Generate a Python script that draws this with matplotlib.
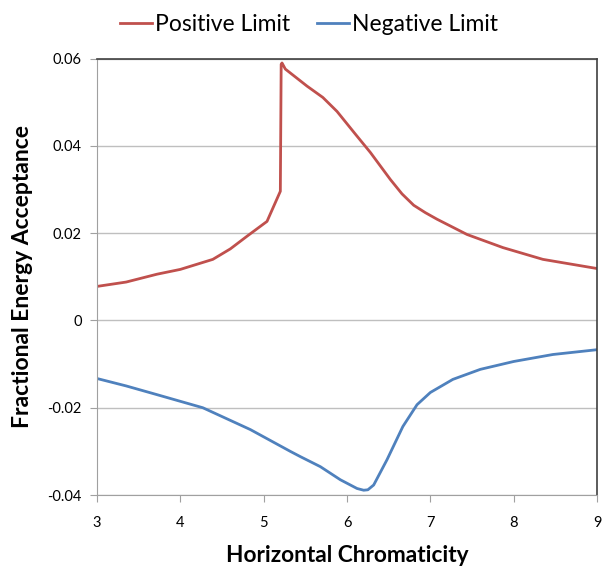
import matplotlib
matplotlib.use("Agg")
import matplotlib.pyplot as plt

plt.rcParams['font.family'] = ['Lato', 'DejaVu Sans']

# positive limit (red)
x_pos = [3.0, 3.35, 3.72, 4.0, 4.39, 4.6, 4.8, 5.04, 5.2, 5.21, 5.22, 5.26, 5.52, 5.71,
         5.88, 6.1, 6.28, 6.52, 6.66, 6.8, 6.94, 7.08, 7.44, 7.87, 8.35, 9.0]
y_pos = [0.0078, 0.0088, 0.0106, 0.0117, 0.0140, 0.0164, 0.0193, 0.0227, 0.0296, 0.0587,
         0.0590, 0.0576, 0.0537, 0.0511, 0.0479, 0.0427, 0.0385, 0.0323, 0.0290, 0.0264,
         0.0247, 0.0232, 0.0197, 0.0167, 0.0140, 0.0119]

# negative limit (blue)
x_neg = [3.0, 3.35, 3.72, 4.27, 4.84, 5.32, 5.44, 5.68, 5.92, 6.12, 6.2, 6.25, 6.32,
         6.48, 6.67, 6.84, 7.0, 7.27, 7.6, 8.0, 8.47, 9.0]
y_neg = [-0.0133, -0.0150, -0.0170, -0.0200, -0.0250, -0.0300, -0.0312, -0.0335,
         -0.0365, -0.0385, -0.0389, -0.0388, -0.0377, -0.0319, -0.0243, -0.0193,
         -0.0165, -0.0135, -0.0112, -0.0094, -0.0078, -0.0067]

x_ticks = [3, 4, 5, 6, 7, 8, 9]
y_ticks = [-0.04, -0.02, 0.0, 0.02, 0.04, 0.06]
y_labels = ['-0.04', '-0.02', '0', '0.02', '0.04', '0.06']

fig = plt.figure(figsize=(6.08, 5.69), dpi=100)
ax = fig.add_axes([0.1595, 0.130, 0.8225, 0.767])

ax.plot(x_pos, y_pos, color='#C0504D', lw=2.0, label='Positive Limit', solid_joinstyle='round')
ax.plot(x_neg, y_neg, color='#4F81BD', lw=2.0, label='Negative Limit', solid_joinstyle='round')

ax.set_xlim(3, 9)
ax.set_ylim(-0.04, 0.06)
ax.set_xticks(x_ticks)
ax.set_yticks(y_ticks, labels=y_labels)
ax.grid(axis='y', color='#bfbfbf', lw=1.0)
ax.set_axisbelow(True)

for side in ['left', 'bottom']:
    ax.spines[side].set_color('#a0a0a0')
for side in ['top', 'right']:
    ax.spines[side].set_color('#404040')
    ax.spines[side].set_linewidth(1.2)

ax.tick_params(direction='out', length=5, color='#a0a0a0', labelsize=10.5, pad=6)
ax.tick_params(axis='x', pad=10)

ax.set_xlabel('Horizontal Chromaticity', fontsize=16.3, fontweight='bold', labelpad=11)
ax.set_ylabel('Fractional Energy Acceptance', fontsize=16.5, fontweight='bold', labelpad=10)

fig.legend(loc='upper center', bbox_to_anchor=(0.508, 1.012), ncol=2, frameon=False,
           fontsize=16.5, handlelength=1.4, handletextpad=0.1, columnspacing=1.2)

fig.savefig('out.png', dpi=100)
